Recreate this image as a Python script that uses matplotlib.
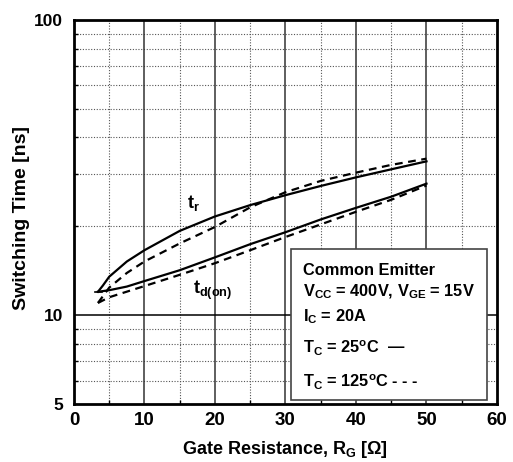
import matplotlib
matplotlib.use("Agg")
import matplotlib.pyplot as plt
from matplotlib.ticker import FixedLocator, NullFormatter

plt.rcParams['font.family'] = ['Liberation Sans', 'DejaVu Sans']
plt.rcParams['font.weight'] = 'bold'
plt.rcParams['mathtext.fontset'] = 'custom'
plt.rcParams['mathtext.rm'] = 'Liberation Sans:bold'
plt.rcParams['mathtext.it'] = 'Liberation Sans:bold'
plt.rcParams['mathtext.bf'] = 'Liberation Sans:bold'

# Data
tr_25_x = [3.4, 4.1, 5, 7.5, 10, 15, 20, 25, 30, 35, 40, 45, 50]
tr_25_y = [12.0, 12.6, 13.5, 15.2, 16.6, 19.3, 21.6, 23.6, 25.5, 27.4, 29.3, 31.2, 33.2]
tr_125_x = [3.4, 5, 7.5, 10, 15, 20, 25, 30, 35, 40, 45, 50]
tr_125_y = [11.0, 12.4, 13.9, 15.2, 17.5, 19.9, 23.2, 26.1, 28.5, 30.4, 32.3, 33.9]
td_25_x = [3.4, 5, 7.5, 10, 15, 20, 25, 30, 35, 40, 45, 50]
td_25_y = [12.0, 12.15, 12.5, 13.05, 14.2, 15.7, 17.4, 19.1, 21.1, 23.1, 25.2, 27.9]
td_125_x = [3.4, 5, 10, 15, 20, 25, 30, 35, 40, 45, 50]
td_125_y = [11.0, 11.5, 12.55, 13.7, 15.0, 16.6, 18.4, 20.3, 22.4, 24.6, 27.5]

x_ticks = [0, 10, 20, 30, 40, 50, 60]
y_ticks = [5, 10, 100]
y_minor = [6, 7, 8, 9, 20, 30, 40, 50, 60, 70, 80, 90]
x_minor = [5, 15, 25, 35, 45, 55]

fig = plt.figure(figsize=(5.13, 4.62), dpi=100)
ax = fig.add_axes([0.1442, 0.1255, 0.8246, 0.8312])
ax.set_yscale('log')
ax.set_xlim(0, 60)
ax.set_ylim(5, 100)

# grid
for xv in x_minor:
    ax.axvline(xv, color='#555555', lw=0.8, ls=(0, (1, 1.5)), zorder=1)
for yv in y_minor:
    ax.axhline(yv, color='#555555', lw=0.8, ls=(0, (1, 1.5)), zorder=1)
for xv in [10, 20, 30, 40, 50]:
    ax.axvline(xv, color='#333333', lw=1.1, zorder=1)
ax.axhline(10, color='black', lw=1.1, zorder=1)

ax.plot(tr_25_x, tr_25_y, color='black', lw=1.6, zorder=3)
ax.plot(tr_125_x, tr_125_y, color='black', lw=1.6, ls=(0, (3.5, 2.5)), zorder=3)
ax.plot(td_25_x, td_25_y, color='black', lw=1.6, zorder=3)
ax.plot(td_125_x, td_125_y, color='black', lw=1.6, ls=(0, (3.5, 2.5)), zorder=3)
ax.plot([3.0, 4.0], [12.0, 12.0], color='black', lw=1.2, zorder=3)

ax.xaxis.set_major_locator(FixedLocator(x_ticks))
ax.xaxis.set_minor_locator(FixedLocator(x_minor))
ax.yaxis.set_major_locator(FixedLocator(y_ticks))
ax.yaxis.set_minor_locator(FixedLocator(y_minor))
ax.yaxis.set_minor_formatter(NullFormatter())
ax.set_xticklabels([str(v) for v in x_ticks])
ax.set_yticklabels([str(v) for v in y_ticks])
ax.tick_params(axis='both', which='both', direction='in', width=1)
ax.tick_params(axis='x', which='major', length=0, pad=6, labelsize=13.5)
ax.tick_params(axis='y', which='major', length=0, pad=8, labelsize=12.5)
ax.tick_params(axis='both', which='minor', length=3)
for lab in ax.get_xticklabels() + ax.get_yticklabels():
    lab.set_fontweight('bold')
for sp in ax.spines.values():
    sp.set_linewidth(2)

ax.set_xlabel(r'Gate Resistance, R$_\mathrm{G}$ [$\Omega$]', fontsize=13, fontweight='bold', labelpad=7)
ax.set_ylabel('Switching Time [ns]', fontsize=14, fontweight='bold')
ax.yaxis.set_label_coords(-0.104, 0.485)

ax.text(16.0, 24.0, r't$_\mathrm{r}$', fontsize=13, fontweight='bold', ha='left', va='center', zorder=4)
ax.text(16.9, 12.1, r't$_\mathrm{d(on)}$', fontsize=13, fontweight='bold', ha='left', va='center', zorder=4)

# annotation box
def px2ax(px, py):
    return ((px - 74) / 423.0, (404 - py) / 384.0)

bx0, by0 = px2ax(291, 400)
bx1, by1 = px2ax(487, 249)
ax.add_patch(plt.Rectangle((bx0, by0), bx1 - bx0, by1 - by0, transform=ax.transAxes,
                           facecolor='white', edgecolor='#444444', lw=1.2, zorder=5))
lines = [
    (270, 'Common Emitter'),
    (292, r'V$_\mathrm{CC}$ = 400V, V$_\mathrm{GE}$ = 15V'),
    (317, r'I$_\mathrm{C}$ = 20A'),
    (348, r'T$_\mathrm{C}$ = 25$^\mathrm{o}$C  —'),
    (382, r'T$_\mathrm{C}$ = 125$^\mathrm{o}$C - - -'),
]
for py, txt in lines:
    tx, ty = px2ax(303, py)
    ax.text(tx, ty, txt, transform=ax.transAxes, fontsize=11.8, fontweight='bold',
            ha='left', va='center', zorder=6)

fig.savefig('out.png', dpi=100)
